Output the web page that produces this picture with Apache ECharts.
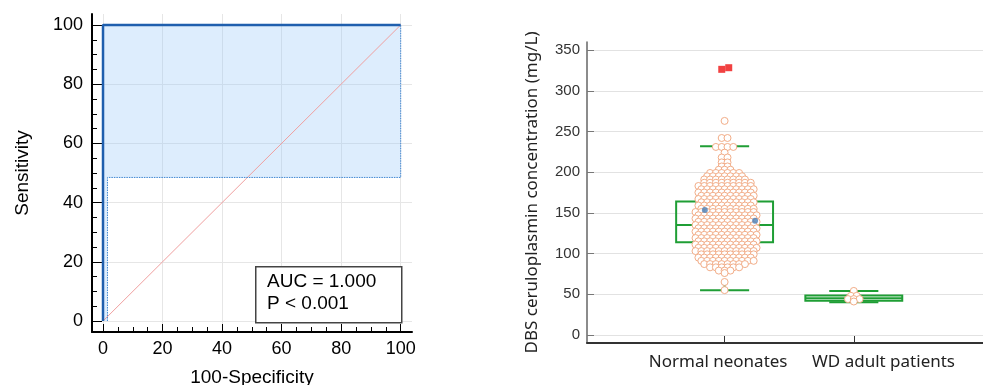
<!DOCTYPE html>
<html>
<head>
<meta charset="utf-8">
<script src="https://cdn.jsdelivr.net/npm/echarts@6/dist/echarts.min.js"></script>
<style>
  html, body { margin: 0; padding: 0; background: #fff; }
  #chart { width: 983px; height: 385px; }
</style>
</head>
<body>
<div id="chart"></div>
<script>
// ROC panel data
const rocCurve = [[0, 0], [0, 100], [100, 100]];
const rocLower = [[1.5, 0], [1.5, 48.5], [100, 48.5], [100, 100]];
const diagonal = [[0, 0], [100, 100]];
const rocTicks = [0, 20, 40, 60, 80, 100];
const rocMinorTicks = [5, 10, 15, 25, 30, 35, 45, 50, 55, 65, 70, 75, 85, 90, 95];

// Box plot panel data
const groups = ["Normal neonates", "WD adult patients"];
// [min, Q1, median, Q3, max]
const boxStats = [
  [54.9, 113.9, 135.1, 163.8, 231.8],
  [40.2, 41.8, 45.0, 48.3, 54.0],
];
// beeswarm rows: [value, number of dots]
const neonateRows = [
  [263, 1], [242, 2], [231, 4], [224, 1], [218, 2], [212, 2], [207, 2], [203, 3],
  [199, 6], [195, 7], [191, 8], [187, 9], [183, 10], [179, 10], [175, 10], [171, 10],
  [167, 10], [163, 10], [159, 10], [155, 10], [151, 11], [147, 11], [143, 11], [139, 11],
  [135, 11], [131, 11], [127, 11], [123, 11], [119, 11], [115, 11], [111, 11], [107, 11],
  [103, 11], [99, 10], [95, 10], [91, 10], [87, 8], [83, 6], [79, 3], [76, 1],
  [65, 1], [55, 1],
];
const wdRows = [[54, 1], [48, 2], [44, 3], [41, 1]];
const outliers = [[0.978, 326.4], [1.032, 328.4]];
const meanMarks = [[0.847, 153.6], [1.236, 140.4]];
const boxTicks = [0, 50, 100, 150, 200, 250, 300, 350];

// lay the rows of a beeswarm out side by side around the group position
function swarm(rows, center, step) {
  const pts = [];
  rows.forEach(([v, n], r) => {
    const shift = n >= 8 && r % 2 ? step / 2 : 0;
    for (let i = 0; i < n; i++) {
      pts.push([center + (i - (n - 1) / 2) * step + shift, v]);
    }
  });
  return pts;
}

const chart = echarts.init(document.getElementById("chart"));

const GREEN = "#1f9e35";
const sansA = "Liberation Sans";
const sansB = "Noto Sans";

const option = {
  animation: false,
  backgroundColor: "#fff",
  grid: [
    { left: 92, top: 14, width: 320, height: 318, outerBoundsMode: "none" },
    { left: 587, top: 42, right: 0, height: 301, outerBoundsMode: "none" },
  ],
  xAxis: [
    {
      gridIndex: 0, type: "value", min: -3.7, max: 103.8, position: "bottom",
      name: "100-Specificity", nameLocation: "middle", nameGap: 36,
      nameTextStyle: { fontFamily: sansA, fontSize: 19, color: "#000" },
      axisLine: { onZero: false, lineStyle: { color: "#000", width: 2 } },
      axisTick: { inside: true, length: 8, customValues: rocTicks, lineStyle: { color: "#000", width: 1 } },
      axisLabel: { customValues: rocTicks, margin: 8, fontFamily: sansA, fontSize: 18, color: "#000" },
      splitLine: { show: true, lineStyle: { color: "#e6e6e6", width: 1 } },
    },
    {
      gridIndex: 0, type: "value", min: -3.7, max: 103.8, position: "bottom",
      axisLine: { show: false, onZero: false },
      axisTick: { inside: true, length: 5, customValues: rocMinorTicks, lineStyle: { color: "#000", width: 1 } },
      axisLabel: { show: false },
      splitLine: { show: false },
    },
    {
      gridIndex: 1, type: "value", min: -0.065, max: 3,
      axisLine: { onZero: false, lineStyle: { color: "#333", width: 2 } },
      axisTick: { inside: true, length: 7, customValues: [1, 2], lineStyle: { color: "#333", width: 1 } },
      axisLabel: {
        customValues: [0.95, 2.23], margin: 11,
        formatter: (v) => (v < 1.5 ? groups[0] : groups[1]),
        fontFamily: sansB, fontSize: 17, color: "#222",
      },
      splitLine: { show: false },
    },
  ],
  yAxis: [
    {
      gridIndex: 0, type: "value", min: -3.7, max: 103.7, position: "left",
      name: "Sensitivity", nameLocation: "middle", nameGap: 60,
      nameTextStyle: { fontFamily: sansA, fontSize: 19, color: "#000" },
      axisLine: { onZero: false, lineStyle: { color: "#000", width: 2 } },
      axisTick: { inside: true, length: 10, customValues: rocTicks, lineStyle: { color: "#000", width: 1 } },
      axisLabel: { customValues: rocTicks, margin: 9, fontFamily: sansA, fontSize: 18, color: "#000" },
      splitLine: { show: true, lineStyle: { color: "#e6e6e6", width: 1 } },
    },
    {
      gridIndex: 0, type: "value", min: -3.7, max: 103.7, position: "left",
      axisLine: { show: false, onZero: false },
      axisTick: { inside: true, length: 5, customValues: rocMinorTicks, lineStyle: { color: "#000", width: 1 } },
      axisLabel: { show: false },
      splitLine: { show: false },
    },
    {
      gridIndex: 1, type: "value", min: -10, max: 360,
      name: "DBS ceruloplasmin concentration (mg/L)", nameLocation: "middle", nameGap: 46,
      nameTextStyle: { fontFamily: sansB, fontSize: 17, color: "#222" },
      axisLine: { onZero: false, lineStyle: { color: "#666", width: 1.5 } },
      axisTick: { inside: true, length: 7, customValues: boxTicks, lineStyle: { color: "#777", width: 1 } },
      axisLabel: { customValues: boxTicks, margin: 7, fontFamily: sansA, fontSize: 15, color: "#333" },
      splitLine: { show: true, lineStyle: { color: "#e2e2e2", width: 1 } },
    },
  ],
  graphic: [
    {
      type: "rect", left: 255, top: 266, z: 100,
      shape: { width: 146, height: 56 },
      style: { fill: "#fff", stroke: "#444", lineWidth: 1.5 },
    },
    {
      type: "text", left: 267, top: 272, z: 101,
      style: { text: "AUC = 1.000", font: "19px 'Liberation Sans'", fill: "#000" },
    },
    {
      type: "text", left: 267, top: 294, z: 101,
      style: { text: "P < 0.001", font: "19px 'Liberation Sans'", fill: "#000" },
    },
  ],
  series: [
    // confidence band
    {
      type: "custom", xAxisIndex: 0, yAxisIndex: 0, silent: true, z: 1,
      data: [0],
      renderItem: (params, api) => {
        const poly = rocCurve.concat(rocLower.slice().reverse()).map((p) => api.coord(p));
        return { type: "polygon", shape: { points: poly }, style: { fill: "rgba(150,200,250,0.32)" } };
      },
    },
    {
      type: "line", xAxisIndex: 0, yAxisIndex: 0, data: diagonal, symbol: "none", z: 2,
      lineStyle: { color: "#f0a0a0", width: 1 },
    },
    {
      type: "line", xAxisIndex: 0, yAxisIndex: 0, data: rocLower, symbol: "none", z: 3,
      lineStyle: { color: "#3f86d2", width: 1, type: [1.5, 1] },
    },
    {
      type: "line", xAxisIndex: 0, yAxisIndex: 0, data: rocCurve, symbol: "none", z: 4, clip: false,
      lineStyle: { color: "#1f5fae", width: 2.5 },
    },
    // box plots
    {
      type: "custom", xAxisIndex: 2, yAxisIndex: 2, z: 2,
      data: boxStats.map((s, i) => [i + 1].concat(s)),
      renderItem: (params, api) => {
        const x = api.value(0);
        const [mn, q1, md, q3, mx] = [1, 2, 3, 4, 5].map((d) => api.value(d));
        const half = 0.375, cap = 0.19;
        const c = (a, b) => api.coord([a, b]);
        const solid = { stroke: GREEN, lineWidth: 2, fill: null };
        const dashed = { stroke: GREEN, lineWidth: 2, lineDash: [6, 3, 2, 3] };
        const seg = (p, q, style) => ({
          type: "line", shape: { x1: p[0], y1: p[1], x2: q[0], y2: q[1] }, style,
        });
        const tl = c(x - half, q3), br = c(x + half, q1);
        return {
          type: "group",
          children: [
            { type: "rect", shape: { x: tl[0], y: tl[1], width: br[0] - tl[0], height: br[1] - tl[1] }, style: solid },
            seg(c(x - half, md), c(x + half, md), solid),
            seg(c(x, q3), c(x, mx), dashed),
            seg(c(x, q1), c(x, mn), dashed),
            seg(c(x - cap, mx), c(x + cap, mx), solid),
            seg(c(x - cap, mn), c(x + cap, mn), solid),
          ],
        };
      },
    },
    {
      type: "scatter", xAxisIndex: 2, yAxisIndex: 2, z: 3,
      data: swarm(neonateRows, 1, 0.045).concat(swarm(wdRows, 2, 0.045)),
      symbol: "circle", symbolSize: 7,
      itemStyle: { color: "#fff", borderColor: "#f2ad88", borderWidth: 1, opacity: 1 },
    },
    {
      type: "scatter", xAxisIndex: 2, yAxisIndex: 2, z: 4, data: meanMarks,
      symbol: "circle", symbolSize: 6, itemStyle: { color: "#4a7fb8" },
    },
    {
      type: "scatter", xAxisIndex: 2, yAxisIndex: 2, z: 4, data: outliers,
      symbol: "rect", symbolSize: 7, itemStyle: { color: "#ee1111" },
    },
  ],
};

chart.setOption(option);
</script>
</body>
</html>
